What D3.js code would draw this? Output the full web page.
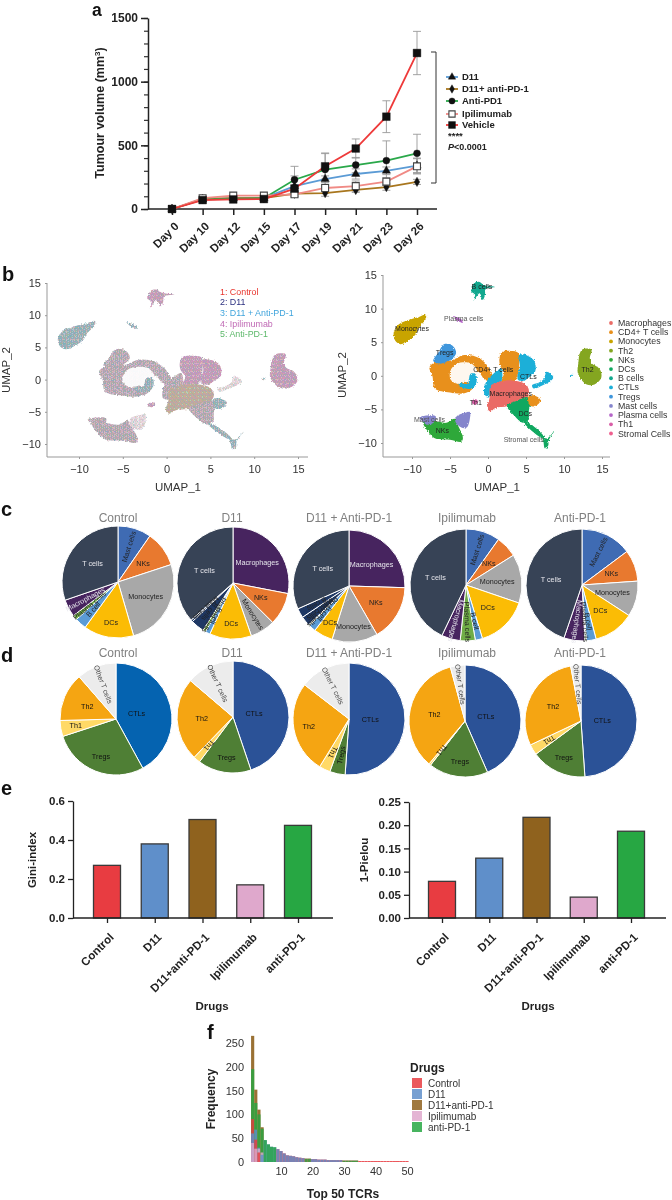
<!DOCTYPE html>
<html><head><meta charset="utf-8">
<script src="https://cdn.jsdelivr.net/npm/d3@7/dist/d3.min.js"></script>
<style>
html,body{margin:0;padding:0;background:#fff}
svg{display:block;filter:blur(0.35px)}
text{font-family:"Liberation Sans",Arial,sans-serif}
</style></head><body><svg id="c" width="672" height="1200"></svg>
<script>
/* ---------- panel a ---------- */
const days=["Day 0","Day 10","Day 12","Day 15","Day 17","Day 19","Day 21","Day 23","Day 26"];
const tumourNames=["D11","D11+ anti-PD-1","Anti-PD1","Ipilimumab","Vehicle"];
const tumourD11=[0,75,85,85,180,235,275,300,340];
const tumourCombo=[0,80,85,85,120,125,150,172,213];
const tumourAnti=[0,75,80,85,230,310,345,380,437];
const tumourIpi=[0,85,105,105,115,165,180,215,335];
const tumourVeh=[0,70,75,78,160,335,475,725,1225];
const errD11=[0,8,8,8,80,25,40,30,60];
const errCombo=[0,5,5,5,10,25,20,25,20];
const errAnti=[0,10,10,10,105,130,60,155,150];
const errIpi=[0,8,8,8,20,40,40,30,60];
const errVeh=[0,10,10,10,30,100,75,125,170];

/* ---------- panel b : cluster outlines, in UMAP units ---------- */
const hullMono=[[-12.2,5.2],[-12.4,6.5],[-11.8,7.6],[-10.5,8.3],[-9,8.8],[-8.2,9.1],[-8.2,8.4],[-9,7.3],[-9.5,6.2],[-10.5,5.2],[-11.5,4.7]];
const hullB=[[-2.2,12.6],[-1.8,13.8],[-1.2,14],[-0.5,13.5],[0.9,13.2],[-0.3,12.9],[-0.4,12],[-0.7,11.3],[-1.1,12.3],[-1.9,11.2],[-1.7,12.1]];
const hullRing=[[-7.7,1.3],[-6.8,2.1],[-4.8,2.3],[-3.1,3.1],[-1.1,2.6],[0.4,0.6],[0.6,-0.9],[-0.4,-0.6],[-1.3,0.6],[-2,-1.9],[-3.1,-2.6],[-5,-2.5],[-7,-1.9],[-7.3,-0.1]];
const hullHole=[[-5,0.5],[-4.5,1.5],[-3.3,2],[-2,1.7],[-1.4,0.6],[-1.6,-0.6],[-2.4,-1.1],[-3,-0.9],[-4,-1.2],[-4.9,-0.6]];
const hullRingCtl=[[-2.3,0.3],[-1.6,0.2],[-1.5,-0.9],[-2.1,-1.9],[-3.8,-1.5],[-3.8,-1.1],[-2.7,-1.2]];
const hullTregs=[[-7.2,2.2],[-6.5,3.5],[-5.8,4.7],[-4.7,4.5],[-4.2,3.4],[-5,2.3],[-6.3,1.8]];
const hullCd4Top=[[1.5,2.5],[1.8,3.5],[3,3.7],[4,3.4],[4.1,1.5],[3.9,0],[3.4,-1],[1.8,-1],[2.1,0.5],[1.6,1.5]];
const hullCtlTop=[[4.1,3.1],[5.2,3],[6.1,2.2],[6.2,0.6],[5.4,-0.2],[4.6,-0.8],[3.9,-0.5],[4.2,1.5]];
const hullCtlLeft=[[0.6,0.2],[1.7,1],[1.8,-0.8],[1,-1.6],[0.5,-3],[-0.4,-2.9],[-0.4,-1.3]];
const hullMacro=[[0.3,-1.7],[1.5,-0.9],[3.2,-0.7],[5,-1.3],[5.4,-2.4],[5,-3.4],[3.5,-3.9],[2.6,-4.5],[1,-4.8],[0.3,-5.3],[-0.1,-4.8],[0.2,-3.3]];
const hullDc=[[2.5,-4.4],[3.8,-3.7],[5,-3.2],[5.7,-3.6],[5.4,-5],[5.3,-6.6],[4.6,-7],[3.5,-6]];
const hullTail=[[4.7,-6.9],[5.2,-6.9],[7.4,-9.1],[7.2,-9.3]];
const hullCd4Small=[[5.3,-3.1],[6,-2.9],[6.9,-3.6],[6.4,-4.4],[5.6,-4.5]];
const hullCtlStreak=[[5.8,-1.4],[6.7,-1],[7.4,-0.4],[7.7,0.6],[8.6,-0.2],[8.2,-0.8],[7.2,-1.4],[6,-1.9]];
const hullStromal=[[7.2,-9.2],[7.8,-9.3],[8.8,-8.1],[8,-9.6],[7.9,-10.6],[7.5,-10.8],[7.3,-9.8]];
const hullTh2=[[12,3],[12.4,3.9],[13.6,3.9],[13.4,2.6],[13.6,1.9],[14.7,1],[14.9,-0.3],[14,-1.3],[13,-1.3],[12.3,-0.6],[11.8,0.5],[11.9,2]];
const hullNk=[[-8.6,-6.6],[-7,-6.7],[-5.5,-7],[-4.4,-6.4],[-3.9,-7.5],[-3.3,-9.2],[-3.5,-9.8],[-5,-9.5],[-7,-9.3],[-7.9,-8.3]];
const hullMastL=[[-9,-6.2],[-8,-5.9],[-6.9,-6],[-7,-6.8],[-7.9,-7.3],[-8.5,-6.9]];
const hullMastR=[[-4.1,-6],[-3,-5.5],[-2.4,-5.4],[-2.4,-6.5],[-2.8,-7.7],[-3.5,-7.7],[-4.3,-6.8]];
const hullPlasma=[[-4.6,8.9],[-3.4,8.3],[-3.3,7.9],[-3.9,8.1]];
const hullTh1=[[-2.2,-3.9],[-1.6,-3.5],[-1.3,-3.9],[-1.7,-4.3]];
const hullSpot=[[10.8,0.1],[11.2,0.3],[11.2,0.1],[10.9,-0.1]];
const legendB=["1: Control","2: D11","3: D11 + Anti-PD-1","4: Ipilimumab","5: Anti-PD-1"];
const clusterNames=["Macrophages","CD4+ T cells","Monocytes","Th2","NKs","DCs","B cells","CTLs","Tregs","Mast cells","Plasma cells","Th1","Stromal Cells"];
const clusterLabels=["Monocytes","Plasma cells","B cells","Tregs","CD4+ T cells","CTLs","Th2","Macrophages","Th1","Mast cells","NKs","DCs","Stromal cells"];
const clusterLabelX=[-10,-3.2,-0.8,-5.7,0.7,5.3,13.1,3,-1.6,-7.7,-6,4.9,4.7];
const clusterLabelY=[7,8.5,13.3,3.4,0.9,-0.1,1,-2.7,-3.9,-6.5,-8.2,-5.6,-9.5];

/* ---------- panels c, d : slice sizes in degrees ---------- */
const pieTitles=["Control","D11","D11 + Anti-PD-1","Ipilimumab","Anti-PD-1"];
const cNames=[
 ["Mast cells","NKs","Monocytes","DCs","B cell","Plasma cells","Macrophages","T cells"],
 ["Macrophages","NKs","Monocytes","DCs","B cell","Plasma cells","B cells","Mast cells","T cells"],
 ["Macrophages","NKs","Monocytes","DCs","B cell","Plasma cells","Mast cells","B cells","T cells"],
 ["Mast cells","NKs","Monocytes","DCs","B cell","Plasma cells","Macrophages","T cells"],
 ["Mast cells","NKs","Monocytes","DCs","B cell","Plasma cells","Macrophages","T cells"]];
const cValues=[
 [34.7,37.1,91.9,52.1,12.1,5,18,108.9],
 [100.9,33.9,26,43.6,5,3,14,2,131.5],
 [91.7,58.3,47.5,20,7.3,1.2,10,9.8,114],
 [35.5,22.4,50.9,54.1,7.5,15.6,19.5,154.5],
 [53.3,32.7,37,42.4,10.1,1.5,21.8,161.2]];
const cModes=[
 ["r","h","h","h","f","f","f","h"],
 ["h","h","r","h","r","r","r","r","h"],
 ["h","h","h","h","r","r","r","r","h"],
 ["r","h","h","h","r","r","r","h"],
 ["r","h","h","h","r","r","r","h"]];
const dNames=["CTLs","Tregs","Th1","Th2","Other T cells"];
const dValues=[
 [151.4,100.5,16.6,50.4,41.1],
 [161.3,55.5,7.2,86.5,49.5],
 [184,16,11.6,96,52.4],
 [156.3,61.7,2,124.8,15.2],
 [176,57.7,11,104.6,10.7]];
const dModes=[
 ["h","h","h","h","f"],["h","h","r","h","f"],["h","f","r","h","f"],["h","h","r","h","f"],["h","h","r","h","f"]];

/* ---------- panel e ---------- */
const drugs=["Control","D11","D11+anti-PD-1","Ipilimumab","anti-PD-1"];
const gini=[0.27,0.38,0.505,0.17,0.475];
const pielou=[0.079,0.129,0.217,0.045,0.187];

/* ---------- panel f : top 50 TCR frequency per drug ---------- */
const tcrControl=[90,47,20,0,0,0,0,0,27,23,18,14,13,12,10,9,8,7,7,6,6,5,5,5,4,4,4,4,4,3,3,3,3,3,2,2,2,2,2,2,2,2,2,2,2,2,2,2,2,2];
const tcrD11=[60,68,30,15,46,37,32,31,27,23,18,14,13,12,10,9,8,0,0,6,6,5,5,5,4,4,4,4,4,0,0,0,0,0,0,0,0,0,0,0,0,0,0,0,0,0,0,0,0,0];
const tcrCombo=[265,152,110,73,0,0,0,0,0,0,0,0,0,0,0,0,0,0,0,0,0,0,0,0,0,0,0,0,0,0,0,0,0,0,0,0,0,0,0,0,0,0,0,0,0,0,0,0,0,0];
const tcrIpi=[40,28,28,20,0,0,0,0,0,0,0,0,0,0,0,0,0,0,0,0,0,0,0,0,0,0,0,0,0,0,0,0,0,0,0,0,0,0,0,0,0,0,0,0,0,0,0,0,0,0];
const tcrAnti=[195,124,100,70,46,37,32,31,0,0,0,0,0,0,0,0,0,7,7,0,0,0,0,0,0,0,0,0,0,3,3,3,3,3,0,0,0,0,0,0,0,0,0,0,0,0,0,0,0,0];

/* ---------- drawing ---------- */
const svg=d3.select("#c");
const defs=svg.append("defs");
const INK="#222";
function letter(t,x,y,fs){svg.append("text").attr("x",x).attr("y",y).attr("font-size",fs||20).attr("font-weight","bold").attr("fill","#111").text(t);}
function styleAxis(g,w,col){g.selectAll("path,line").attr("stroke",col).attr("stroke-width",w);g.selectAll("text").attr("fill",col);}

/* a */
(function(){
 const y=d3.scaleLinear().domain([0,1500]).range([209,18]);
 const x=d3.scalePoint().domain(days).range([172,417]);
 const colors=["#5b9bd5","#a8761e","#2aa84a","#f08a85","#ee3a3a"];
 const vals=[tumourD11,tumourCombo,tumourAnti,tumourIpi,tumourVeh];
 const errs=[errD11,errCombo,errAnti,errIpi,errVeh];
 const syms=[d3.symbolTriangle,d3.symbolDiamond,d3.symbolCircle,d3.symbolSquare,d3.symbolSquare];
 const sizes=[30,26,38,48,60];
 const g=svg.append("g");
 const mn=g.append("g").attr("transform","translate(148,0)").call(d3.axisLeft(y).tickValues(d3.range(0,1501,100)).tickSize(4).tickFormat(""));
 mn.select(".domain").remove();styleAxis(mn,1.2,"#333");
 const ya=g.append("g").attr("transform","translate(148,0)").call(d3.axisLeft(y).tickValues([0,500,1000,1500]).tickFormat(d3.format("d")).tickSize(7).tickSizeOuter(0).tickPadding(3));
 styleAxis(ya,1.5,INK);ya.selectAll("text").attr("font-size",12).attr("font-weight","bold");
 const xa=g.append("g").attr("transform","translate(0,209)").call(d3.axisBottom(x).tickSize(6).tickSizeOuter(0));
 xa.select(".domain").remove();
 styleAxis(xa,1.5,INK);
 xa.selectAll("text").attr("font-size",11.5).attr("font-weight","bold").attr("text-anchor","end").attr("dy",0).attr("y",0).attr("transform","translate(7,18) rotate(-45)");
 g.append("line").attr("x1",148).attr("x2",437).attr("y1",y(0)).attr("y2",y(0)).attr("stroke",INK).attr("stroke-width",1.6);
 g.append("text").attr("transform","translate(104,113) rotate(-90)").attr("text-anchor","middle").attr("font-size",12.5).attr("font-weight","bold").attr("fill",INK).html('Tumour volume (mm<tspan dy="-4" font-size="8">3</tspan><tspan dy="4">)</tspan>');
 const line=d3.line().x((d,i)=>x(days[i])).y(d=>y(d));
 vals.forEach((v,k)=>{
  const eg=g.append("g").attr("stroke","#999").attr("stroke-width",0.9).attr("fill","none");
  v.forEach((d,i)=>{ if(!errs[k][i])return; const X=x(days[i]),a=y(d+errs[k][i]),b=y(Math.max(0,d-errs[k][i]));
   eg.append("line").attr("x1",X).attr("x2",X).attr("y1",a).attr("y2",b);
   eg.append("line").attr("x1",X-4).attr("x2",X+4).attr("y1",a).attr("y2",a);
   eg.append("line").attr("x1",X-4).attr("x2",X+4).attr("y1",b).attr("y2",b);});
 });
 vals.forEach((v,k)=>g.append("path").attr("d",line(v)).attr("fill","none").attr("stroke",colors[k]).attr("stroke-width",1.8));
 function mark(k,X,Y,s){const open=k==3;
  g.append("path").attr("d",d3.symbol().type(syms[k]).size(s)()).attr("transform",`translate(${X},${Y})`)
   .attr("fill",open?"#fff":"#111").attr("stroke",open?"#444":"#111").attr("stroke-width",open?1.1:0.4);}
 vals.forEach((v,k)=>v.forEach((d,i)=>mark(k,x(days[i]),y(d),sizes[k])));
 g.append("path").attr("d","M431,52H436V183H431").attr("fill","none").attr("stroke","#333").attr("stroke-width",1);
 const ly=[77,89,101,114,125];
 tumourNames.forEach((n,k)=>{
  g.append("line").attr("x1",446).attr("x2",458).attr("y1",ly[k]).attr("y2",ly[k]).attr("stroke",colors[k]).attr("stroke-width",1.8);
  mark(k,452,ly[k],sizes[k]*0.8);
  g.append("text").attr("x",462).attr("y",ly[k]+3.3).attr("font-size",9.5).attr("font-weight","bold").attr("fill",INK).text(n);
 });
 g.append("text").attr("x",448).attr("y",139).attr("font-size",9.5).attr("font-weight","bold").attr("fill",INK).text("****");
 g.append("text").attr("x",448).attr("y",150).attr("font-size",9).attr("font-weight","bold").attr("fill",INK).html('<tspan font-style="italic">P</tspan>&lt;0.0001');
})();
letter("a",92,16,17.5);

/* b */
const tiles={
 mix:["ptowprgt","orpptwnp","tpgropto","pwtpoptr","ropgtwpo","tpnoprtp","pogtpwro","wrptoptg"],
 pink:["ppopprpt","oppwptpp","tprppopp","pptpoppr","rpppgppo","pptoprtp","popgpwrp","wrptpppg"],
 teal:["ttotprgt","otptgwnt","tpgtoptt","twtpottr","rtpgtttp","ttnoprtt","pogtpwro","wtttoptg"],
 olive:["ooprogtp","rpoogwoo","oprooptg","goopoorp","roppgoop","tpooprop","oogtpoor","oroptopg"],
 sparse:["wwpwwrww","owwwtwwp","wwgwwwow","pwwtwwwr","wowwwpww","wwwrwwtw","twwwowww","wrwwwpwg"]};
const tileCols={p:"#b85aa8",t:"#3493ab",o:"#99994a",r:"#dc8070",g:"#4ea56c",w:"#e9e2e7",n:"#5a6aa0"};
Object.entries(tiles).forEach(([k,rows])=>{
 const p=defs.append("pattern").attr("id","tile-"+k).attr("patternUnits","userSpaceOnUse").attr("width",4).attr("height",4);
 p.append("rect").attr("width",4).attr("height",4).attr("fill","#fff");
 rows.forEach((row,r)=>row.split("").forEach((c,i)=>p.append("rect").attr("x",i*0.5).attr("y",r*0.5).attr("width",0.5).attr("height",0.5).attr("fill",tileCols[c])));
});
function roughFilter(id,blur){
 const f=defs.append("filter").attr("id",id).attr("x","-10%").attr("y","-10%").attr("width","120%").attr("height","120%").attr("color-interpolation-filters","sRGB");
 f.append("feTurbulence").attr("type","fractalNoise").attr("baseFrequency",0.7).attr("numOctaves",2).attr("seed",4).attr("result","n");
 f.append("feDisplacementMap").attr("in","SourceGraphic").attr("in2","n").attr("scale",3).attr("xChannelSelector","R").attr("yChannelSelector","G").attr("result","d");
 if(blur)f.append("feGaussianBlur").attr("in","d").attr("stdDeviation",blur);
}
roughFilter("rough",0);roughFilter("roughSoft",0.25);
const cols={Macrophages:"#ea6b66","CD4+ T cells":"#e8901c",Monocytes:"#c8a400",Th2:"#84a620",NKs:"#2ea83a",DCs:"#10a860","B cells":"#12a88e",CTLs:"#1cafd8",Tregs:"#3f96dc","Mast cells":"#8585cc","Plasma cells":"#b565c8",Th1:"#d95fa8","Stromal Cells":"#10a860"};
const drawList=[
 [hullMono,"Monocytes","teal"],[hullB,"B cells","pink"],[hullRing,"CD4+ T cells","mix"],[hullHole,null,null],[hullRingCtl,"CTLs","teal"],
 [hullTregs,"Tregs","mix"],[hullCd4Top,"CD4+ T cells","pink"],[hullCtlTop,"CTLs","pink"],[hullCtlLeft,"CTLs","mix"],[hullMacro,"Macrophages","olive"],
 [hullDc,"DCs","mix"],[hullTail,"DCs","teal"],[hullCd4Small,"CD4+ T cells","teal"],[hullCtlStreak,"CTLs","sparse"],[hullStromal,"Stromal Cells","teal"],
 [hullTh2,"Th2","pink"],[hullNk,"NKs","mix"],[hullMastL,"Mast cells","mix"],[hullMastR,"Mast cells","sparse"],[hullPlasma,"Plasma cells","teal"],[hullTh1,"Th1","pink"],[hullSpot,"CTLs","teal"]];
function umap(xr,yr,axisX,axisB,axisR,axisT,right){
 const x=d3.scaleLinear().domain([-10,15]).range(xr), y=d3.scaleLinear().domain([-10,15]).range(yr);
 const g=svg.append("g");
 const ya=g.append("g").attr("transform",`translate(${axisX},0)`).call(d3.axisLeft(y).tickValues([-10,-5,0,5,10,15]).tickSize(2).tickPadding(4).tickSizeOuter(0));
 ya.select(".domain").attr("d",`M0,${axisT}V${axisB}`);
 const xa=g.append("g").attr("transform",`translate(0,${axisB})`).call(d3.axisBottom(x).tickValues([-10,-5,0,5,10,15]).tickSize(2).tickPadding(6).tickSizeOuter(0));
 xa.select(".domain").attr("d",`M${axisX},0H${axisR}`);
 [ya,xa].forEach(a=>{styleAxis(a,1,"#999");a.selectAll("text").attr("fill","#333").attr("font-size",11);});
 const line=d3.line().x(d=>x(d[0])).y(d=>y(d[1])).curve(d3.curveCatmullRomClosed.alpha(0.5));
 const b=g.append("g").attr("filter",right?"url(#rough)":"url(#roughSoft)");
 drawList.forEach(([h,name,tile])=>{
  b.append("path").attr("d",line(h)).attr("fill",!name?"#fff":right?cols[name]:`url(#tile-${tile})`).attr("fill-opacity",!name?0.93:1);
 });
 return {x,y,g};
}
const bl=umap([79,298],[444,283],47,457,308,283,false);
svg.append("text").attr("transform","translate(10,370) rotate(-90)").attr("text-anchor","middle").attr("font-size",11.5).attr("fill","#333").text("UMAP_2");
svg.append("text").attr("x",178).attr("y",491).attr("text-anchor","middle").attr("font-size",11.5).attr("fill","#333").text("UMAP_1");
const legBCols=["#e8352e","#2b2f7f","#3fa4dc","#c06ab5","#5db86a"], legBY=[295,305,316,327,337];
legendB.forEach((t,i)=>svg.append("text").attr("x",220).attr("y",legBY[i]).attr("font-size",8.9).attr("fill",legBCols[i]).text(t));
const br=umap([412,602],[443,275],383,457,610,275,true);
svg.append("text").attr("transform","translate(346,375) rotate(-90)").attr("text-anchor","middle").attr("font-size",11.5).attr("fill","#333").text("UMAP_2");
svg.append("text").attr("x",497).attr("y",491).attr("text-anchor","middle").attr("font-size",11.5).attr("fill","#333").text("UMAP_1");
clusterLabels.forEach((t,i)=>svg.append("text").attr("x",br.x(clusterLabelX[i])).attr("y",br.y(clusterLabelY[i])+2.5).attr("text-anchor","middle").attr("font-size",7).attr("fill",(t=="Plasma cells"||t=="Stromal cells"||t=="Mast cells")?"#555":"#222").text(t));
const legY=d3.scalePoint().domain(clusterNames).range([323,433.5]);
clusterNames.forEach(n=>{
 svg.append("circle").attr("cx",611).attr("cy",legY(n)).attr("r",1.9).attr("fill",n=="Stromal Cells"?"#ef5f8f":cols[n]);
 svg.append("text").attr("x",618).attr("y",legY(n)+3).attr("font-size",8.8).attr("fill","#333").text(n);
});
letter("b",2,281);

/* c, d */
const cCols={"T cells":"#374356",Macrophages:"#47245f",NKs:"#e8792f",Monocytes:"#a8a8a8",DCs:"#fbbc05","B cell":"#5b9bd5","Plasma cells":"#70ad47","Mast cells":"#3f6bb3","B cells":"#1f3864"};
const dCols={CTLs:"#2b5297",Tregs:"#4f7f35",Th1:"#ffd966",Th2:"#f5a512","Other T cells":"#ececec"};
function pieOne(cx,cy,names,values,modes,colorOf,txt){
 const r=56,g=svg.append("g").attr("transform",`translate(${cx},${cy})`);
 const arcs=d3.pie().sort(null).value(d=>d)(values);
 const arc=d3.arc().innerRadius(0).outerRadius(r);
 g.selectAll("path").data(arcs).join("path").attr("d",arc).attr("fill",(d,i)=>colorOf(names[i])).attr("stroke","#fff").attr("stroke-width",1);
 arcs.forEach((a,i)=>{
  const mid=(a.startAngle+a.endAngle)/2,m=modes[i],deg=mid*180/Math.PI;
  const low=deg>150&&deg<265;
  const k=names[i]=="CTLs"?0.38:m=="h"?(low?0.73:0.56):0.66, R=r*k;
  const X=Math.sin(mid)*R,Y=-Math.cos(mid)*R;
  const rot=m=="h"?0:m=="r"?deg-90:deg+90;
  g.append("text").attr("transform",`translate(${X},${Y}) rotate(${rot})`).attr("text-anchor","middle").attr("dy","0.33em").attr("font-size",7.2).attr("fill",txt(names[i])).text(names[i]);
 });
}
const cCx=[118,233,349,466,582],cCy=[582,583,586,585,585],dCx=[116,233,349,465,581],dCy=[719,717,719,721,721];
const cTitleY=[522,522,522,522,522],dTitleY=[657,657,657,657,657];
pieTitles.forEach((t,i)=>{
 const tx=[118,232,349,467,580][i];
 svg.append("text").attr("x",tx).attr("y",cTitleY[i]).attr("text-anchor","middle").attr("font-size",12).attr("fill","#808080").text(t);
 svg.append("text").attr("x",tx).attr("y",dTitleY[i]).attr("text-anchor","middle").attr("font-size",12).attr("fill","#808080").text(t);
 pieOne(cCx[i],cCy[i],cNames[i],cValues[i],cModes[i],n=>(n=="Mast cells"&&(i==1||i==2))?"#1f3864":cCols[n],n=>(n=="T cells"||n=="Macrophages")?"#e6e6ec":"#222");
 pieOne(dCx[i],dCy[i],dNames,dValues[i],dModes[i],n=>(n=="CTLs"&&i==0)?"#0563b0":dCols[n],n=>n=="Other T cells"?"#444":"#111");
});
letter("c",1,516);letter("d",1,662);

/* e */
const barCols=["#e83c41","#5f8fca","#8f621e","#dfa8cc","#27a743"];
function barPanel(vals,x0,xr,first,last,dom,ticks,fmt,title,tx,labX){
 const y=d3.scaleLinear().domain(dom).range([918,dom[1]==0.6?801:802]);
 const x=d3.scalePoint().domain(drugs).range([first,last]);
 const g=svg.append("g");
 g.selectAll("rect").data(vals).join("rect").attr("x",(d,i)=>x(drugs[i])-13.5).attr("width",27).attr("y",d=>y(d)).attr("height",d=>918-y(d)).attr("fill",(d,i)=>barCols[i]).attr("stroke","#3a3a3a").attr("stroke-width",1.3);
 const ya=g.append("g").attr("transform",`translate(${x0},0)`).call(d3.axisLeft(y).tickValues(ticks).tickFormat(d3.format(fmt)).tickSize(5).tickSizeOuter(0).tickPadding(3));
 styleAxis(ya,1.3,INK);ya.selectAll("text").attr("font-size",11.5).attr("font-weight","bold");
 const xa=g.append("g").attr("transform","translate(0,918)").call(d3.axisBottom(x).tickSize(5).tickSizeOuter(0));
 xa.select(".domain").attr("d",`M${x0},0H${xr}`);
 styleAxis(xa,1.3,INK);
 xa.selectAll("text").attr("font-size",11.5).attr("font-weight","bold").attr("text-anchor","end").attr("y",0).attr("dy",0).attr("transform","translate(7,20) rotate(-45)");
 g.append("text").attr("transform",`translate(${tx},860) rotate(-90)`).attr("text-anchor","middle").attr("font-size",11.5).attr("font-weight","bold").attr("fill",INK).text(title);
 g.append("text").attr("x",labX).attr("y",1010).attr("text-anchor","middle").attr("font-size",11.5).attr("font-weight","bold").attr("fill",INK).text("Drugs");
}
barPanel(gini,73,333,107,298,[0,0.6],[0,0.2,0.4,0.6],".1f","Gini-index",36,212);
barPanel(pielou,409,666,442,631,[0,0.25],[0,0.05,0.1,0.15,0.2,0.25],".2f","1-Pielou",368,538);
letter("e",1,795);

/* f */
(function(){
 const ranks=d3.range(1,51);
 const x=d3.scaleLinear().domain([10,50]).range([281,407]);
 const y=d3.scaleLinear().domain([0,250]).range([1162,1043]);
 const series=[tcrControl,tcrD11,tcrCombo,tcrIpi,tcrAnti];
 const g=svg.append("g");
 const w=x(2)-x(1);
 ranks.forEach((r,i)=>{
  const order=d3.range(5).filter(k=>series[k][i]>0).sort((a,b)=>series[b][i]-series[a][i]);
  order.forEach((k,j)=>g.append("rect").attr("x",x(r)-w/2).attr("width",w).attr("y",y(series[k][i])).attr("height",1162-y(series[k][i])).attr("fill",barCols[k]).attr("fill-opacity",j==0?0.9:0.82));
 });
 const ya=g.append("g").attr("transform","translate(246,0)").call(d3.axisLeft(y).tickValues([0,50,100,150,200,250]).tickSize(0).tickPadding(2));
 ya.select(".domain").remove();ya.selectAll("text").attr("fill","#333").attr("font-size",11);
 const xa=g.append("g").attr("transform","translate(0,1162)").call(d3.axisBottom(x).tickValues([10,20,30,40,50]).tickSize(0).tickPadding(5));
 xa.select(".domain").remove();xa.selectAll("text").attr("fill","#333").attr("font-size",11);
 g.append("text").attr("transform","translate(215,1099) rotate(-90)").attr("text-anchor","middle").attr("font-size",12).attr("font-weight","bold").attr("fill",INK).text("Frequency");
 g.append("text").attr("x",343).attr("y",1198).attr("text-anchor","middle").attr("font-size",12).attr("font-weight","bold").attr("fill",INK).text("Top 50 TCRs");
 g.append("text").attr("x",410).attr("y",1072).attr("font-size",12).attr("font-weight","bold").attr("fill",INK).text("Drugs");
 const ly=d3.scalePoint().domain(drugs).range([1083,1127]);
 drugs.forEach((d,i)=>{
  g.append("rect").attr("x",412).attr("y",ly(d)-5).attr("width",10).attr("height",10).attr("fill",barCols[i]).attr("fill-opacity",0.85);
  g.append("text").attr("x",428).attr("y",ly(d)+3.5).attr("font-size",10).attr("fill","#333").text(d);
 });
})();
letter("f",207,1039);
</script></body></html>
